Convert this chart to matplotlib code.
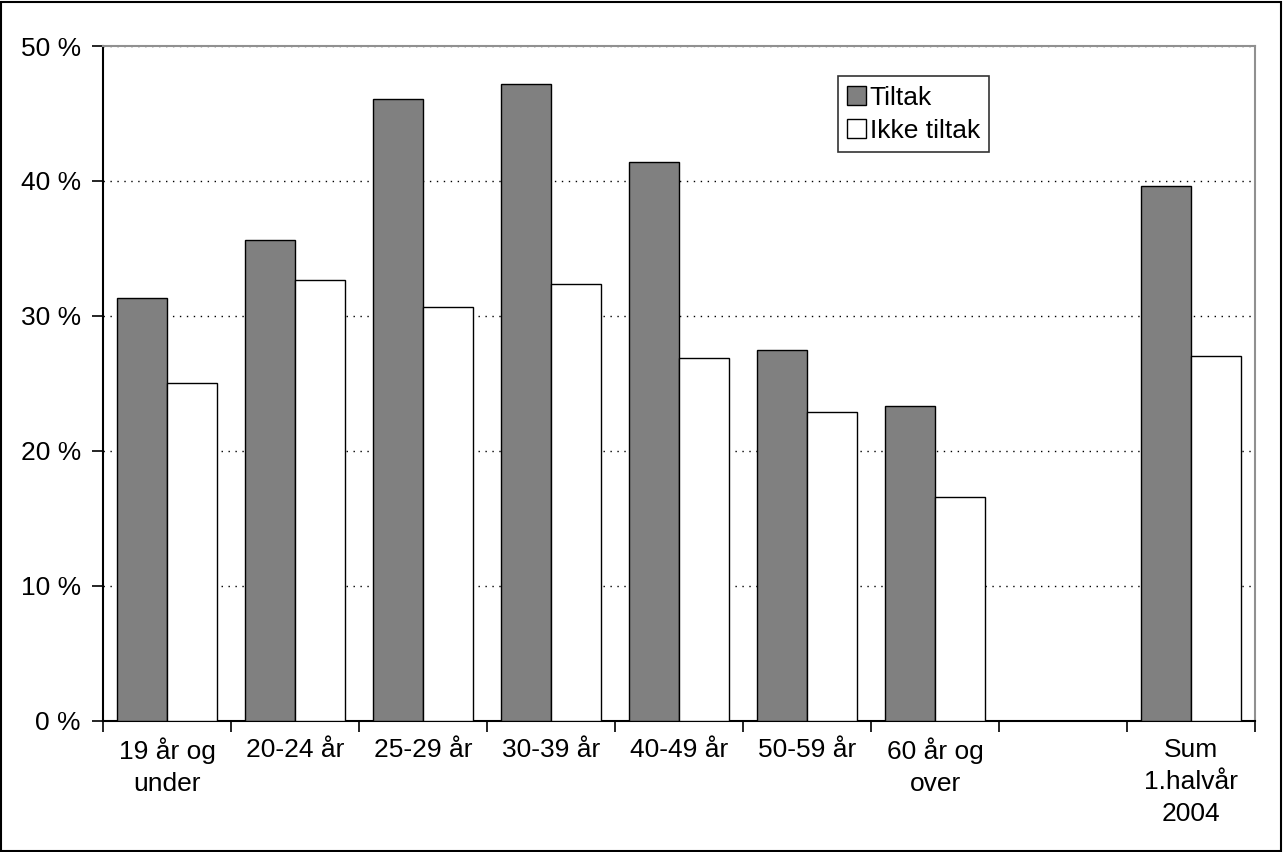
import matplotlib.pyplot as plt
import numpy as np
import matplotlib
from matplotlib.patches import Rectangle
matplotlib.rcParams['font.family'] = ['Liberation Sans', 'DejaVu Sans']

# Data
categories = ["19 år og\nunder", "20-24 år", "25-29 år", "30-39 år", "40-49 år",
              "50-59 år", "60 år og\nover", "", "Sum\n1.halvår\n2004"]
tiltak = [31.3, 35.6, 46.1, 47.2, 41.4, 27.5, 23.3, np.nan, 39.6]
ikke_tiltak = [25.0, 32.7, 30.7, 32.4, 26.9, 22.9, 16.6, np.nan, 27.0]
y_ticks = [0, 10, 20, 30, 40, 50]

fig = plt.figure(figsize=(12.84, 8.52), dpi=100)
ax = fig.add_axes([0.0802, 0.1538, 0.8973, 0.7922])

x = np.arange(len(categories))
w = 0.39
ax.bar(x - w / 2, tiltak, width=w, color='#808080', edgecolor='black', linewidth=1, label='Tiltak', zorder=3)
ax.bar(x + w / 2, ikke_tiltak, width=w, color='white', edgecolor='black', linewidth=1, label='Ikke tiltak', zorder=3)

ax.set_xlim(-0.5, len(categories) - 0.5)
ax.set_ylim(0, 50)
ax.set_yticks(y_ticks)
ax.set_yticklabels([f"{v} %" for v in y_ticks], fontsize=19)
ax.yaxis.grid(True, linestyle=(0, (1, 4)), color='black', linewidth=1)
ax.set_axisbelow(True)

# category labels centered, ticks between categories
ax.set_xticks(x)
ax.set_xticklabels(categories, fontsize=19, linespacing=1.42)
ax.tick_params(axis='x', which='major', length=0, pad=12)
ax.set_xticks(np.arange(-0.5, len(categories)), minor=True)
ax.tick_params(axis='x', which='minor', length=8, width=1.2, direction='out')
ax.tick_params(axis='y', length=8, width=1.2, direction='out', pad=8)

ax.spines['left'].set_linewidth(1.5)
ax.spines['bottom'].set_linewidth(1.5)
ax.spines['top'].set_color('#909090')
ax.spines['right'].set_color('#909090')
ax.spines['top'].set_linewidth(1.5)
ax.spines['right'].set_linewidth(1.5)

leg = ax.legend(loc='upper left', bbox_to_anchor=(0.638, 0.955), fontsize=19, frameon=True,
                fancybox=False, edgecolor='black', handlelength=0.7, handleheight=0.7,
                handletextpad=0.15, borderpad=0.35, labelspacing=0.35, borderaxespad=0)
leg.get_frame().set_linewidth(1.2)

fig.patches.append(Rectangle((0.001, 0.001), 0.997, 0.997, transform=fig.transFigure,
                             fill=False, edgecolor='black', linewidth=1.5))

plt.savefig('out.png', dpi=100, facecolor='white')
plt.close()
